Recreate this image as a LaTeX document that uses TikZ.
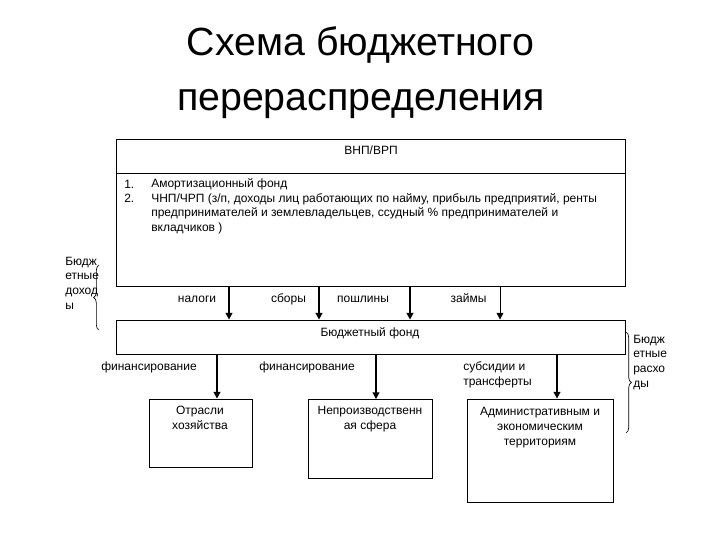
\documentclass[tikz,border=0pt]{standalone}
\usepackage{fontspec}
\setmainfont{Liberation Sans}
\usetikzlibrary{arrows.meta,decorations.pathreplacing}

\tikzset{
  frame/.style={draw, line width=0.6pt, inner sep=0pt},
  lbl/.style={inner sep=0.75pt, font=\fontsize{9}{10.9}\selectfont},
  flow/.style={-{Triangle[length=5pt,width=5pt]}, line width=1.5pt},
  thinflow/.style={-{Triangle[length=5pt,width=5pt]}, line width=0.75pt},
  curly/.style={decorate, decoration={brace, amplitude=4pt}, line width=0.5pt}
}

\begin{document}
\begin{tikzpicture}[x=0.75pt,y=0.75pt,yscale=-1,xscale=1]
\path[use as bounding box] (0,0) rectangle (720,540);

% Title
\node[anchor=base, inner sep=0pt, font=\fontsize{29.5}{41}\selectfont] (title1) at (360.5,55) {Схема бюджетного};
\node[anchor=base, inner sep=0pt, font=\fontsize{29.5}{41}\selectfont] (title2) at (361,110) {перераспределения};

% Boxes
\node[frame, minimum width=381.75pt, minimum height=110.25pt] (gnp) at (370.5,212.5) {};
\node[frame, minimum width=381.75pt, minimum height=25.5pt] (fund) at (370.5,337) {};
\node[frame, minimum width=77.25pt, minimum height=51pt] (branch) at (200.5,433) {};
\node[frame, minimum width=93pt, minimum height=59.25pt] (nonprod) at (370,439) {};
\node[frame, minimum width=109.5pt, minimum height=77.25pt] (admin) at (540,450.5) {};

% Divider in top box
\coordinate (sep) at (370,173);
\draw[line width=0.6pt] (gnp.west |- sep) -- (gnp.east |- sep);

% Text Node
\node[lbl, anchor=base] (gnptext) at (371,154) {ВНП/ВРП};
\node[lbl, anchor=base west] (n1) at (123,188) {1.};
\node[lbl, anchor=base west] (n2) at (123,202.5) {2.};
\node[lbl, anchor=base west, align=left] (items) at (150,231.5) {Амортизационный фонд\\
ЧНП/ЧРП (з/п, доходы лиц работающих по найму, прибыль предприятий, ренты\\
предпринимателей и землевладельцев, ссудный \% предпринимателей и\\
вкладчиков )};
\node[lbl, anchor=base] (fundtext) at (370,336) {Бюджетный фонд};

% Incomes
\coordinate (a1) at (229,0);
\coordinate (a2) at (319,0);
\coordinate (a3) at (410,0);
\coordinate (a4) at (500,0);
\draw[flow] (gnp.south -| a1) -- (fund.north -| a1);
\draw[flow] (gnp.south -| a2) -- (fund.north -| a2);
\draw[flow] (gnp.south -| a3) -- (fund.north -| a3);
\draw[thinflow] (gnp.south -| a4) -- (fund.north -| a4);
\node[lbl, anchor=base] (tax) at (197,302) {налоги};
\node[lbl, anchor=base] (fees) at (288.5,302) {сборы};
\node[lbl, anchor=base] (duty) at (363,302) {пошлины};
\node[lbl, anchor=base] (loans) at (468.5,302) {займы};

% Expenditures
\coordinate (b1) at (217,0);
\coordinate (b2) at (376,0);
\coordinate (b3) at (557,0);
\draw[flow] (fund.south -| b1) -- (branch.north -| b1);
\draw[flow] (fund.south -| b2) -- (nonprod.north -| b2);
\draw[flow] (fund.south -| b3) -- (admin.north -| b3);
\node[lbl, anchor=base] (fin1) at (149,370) {финансирование};
\node[lbl, anchor=base] (fin2) at (307,370) {финансирование};
\node[lbl, anchor=base west, align=left] (subs) at (462,385) {субсидии и\\трансферты};

\node[lbl, anchor=base, align=center] (branchtext) at (200,429) {Отрасли\\хозяйства};
\node[lbl, anchor=base, align=center] (nonprodtext) at (370,429) {Непроизводственн\\ая сфера};
\node[lbl, anchor=base, align=center] (admintext) at (540,445) {Административным и\\экономическим\\территориям};

% Braces
\coordinate (lb1) at (99,330);
\coordinate (lb2) at (99,265);
\draw[curly] (lb1) -- (lb2);
\node[lbl, anchor=base west, align=left] (income) at (64,309) {Бюдж\\етные\\доход\\ы};
\coordinate (rb1) at (626,332);
\coordinate (rb2) at (626,433);
\draw[curly] (rb1) -- (rb2);
\node[lbl, anchor=base west, align=left] (spend) at (632,387) {Бюдж\\етные\\расхо\\ды};

\end{tikzpicture}
\end{document}
